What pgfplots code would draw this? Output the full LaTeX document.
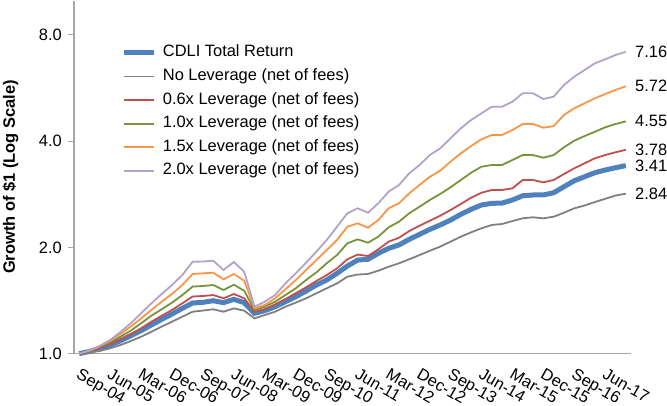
\documentclass[border=0pt]{standalone}
\usepackage{pgfplots}
\pgfplotsset{compat=1.18}
\usepackage{pgfplotstable}
\usepackage{fontspec}
\setmainfont{Liberation Sans}
\newcommand\fs{\fontsize{16.5}{19}\selectfont}
\definecolor{cdli}{HTML}{4F81BD}
\definecolor{nolev}{HTML}{808080}
\definecolor{lsix}{HTML}{C0504D}
\definecolor{lone}{HTML}{77933C}
\definecolor{lonefive}{HTML}{F79646}
\definecolor{ltwo}{HTML}{B3A2C7}
\definecolor{axisgray}{HTML}{A6A6A6}

\pgfplotstableread{
i cdli nolev l06 l10 l15 l20
0 1.000 1.000 1.000 1.000 1.000 1.000
1 1.015 1.008 1.015 1.018 1.021 1.022
2 1.036 1.018 1.040 1.047 1.051 1.053
3 1.058 1.036 1.065 1.077 1.088 1.093
4 1.088 1.058 1.098 1.117 1.137 1.152
5 1.124 1.086 1.137 1.162 1.193 1.219
6 1.162 1.117 1.180 1.219 1.259 1.301
7 1.206 1.154 1.232 1.281 1.330 1.389
8 1.251 1.193 1.281 1.336 1.404 1.476
9 1.295 1.232 1.330 1.395 1.476 1.565
10 1.344 1.273 1.389 1.466 1.565 1.670
11 1.392 1.315 1.452 1.549 1.682 1.822
12 1.398 1.325 1.457 1.555 1.689 1.824
13 1.413 1.336 1.466 1.565 1.696 1.834
14 1.395 1.315 1.435 1.515 1.624 1.726
15 1.426 1.344 1.476 1.568 1.682 1.819
16 1.395 1.324 1.435 1.508 1.610 1.707
17 1.301 1.259 1.315 1.330 1.344 1.359
18 1.324 1.287 1.336 1.359 1.374 1.404
19 1.359 1.315 1.380 1.404 1.435 1.466
20 1.404 1.359 1.429 1.466 1.522 1.582
21 1.450 1.395 1.483 1.532 1.617 1.689
22 1.505 1.435 1.542 1.617 1.726 1.810
23 1.565 1.483 1.607 1.700 1.842 1.945
24 1.617 1.532 1.670 1.803 1.966 2.099
25 1.689 1.582 1.745 1.903 2.099 2.289
26 1.771 1.652 1.851 2.054 2.289 2.498
27 1.842 1.676 1.909 2.108 2.340 2.581
28 1.851 1.682 1.891 2.062 2.274 2.508
29 1.924 1.718 1.975 2.145 2.391 2.666
30 1.988 1.763 2.076 2.280 2.581 2.876
31 2.032 1.803 2.130 2.365 2.666 3.004
32 2.108 1.851 2.225 2.498 2.846 3.243
33 2.178 1.903 2.304 2.608 3.004 3.423
34 2.250 1.957 2.380 2.725 3.171 3.653
35 2.315 2.010 2.459 2.833 3.298 3.816
36 2.391 2.076 2.552 2.959 3.497 4.073
37 2.481 2.145 2.654 3.104 3.694 4.347
38 2.564 2.207 2.766 3.256 3.874 4.589
39 2.637 2.265 2.857 3.385 4.047 4.795
40 2.666 2.315 2.908 3.423 4.164 5.006
41 2.670 2.330 2.908 3.423 4.164 5.006
42 2.725 2.375 2.940 3.536 4.299 5.172
43 2.801 2.418 3.104 3.653 4.472 5.464
44 2.815 2.434 3.104 3.653 4.472 5.464
45 2.815 2.418 3.057 3.590 4.365 5.264
46 2.857 2.443 3.104 3.653 4.413 5.344
47 2.971 2.508 3.227 3.842 4.743 5.767
48 3.089 2.581 3.350 4.011 4.954 6.088
49 3.171 2.628 3.461 4.135 5.119 6.360
50 3.256 2.689 3.576 4.252 5.289 6.643
51 3.313 2.746 3.653 4.377 5.439 6.819
52 3.363 2.805 3.719 4.472 5.582 7.014
53 3.410 2.840 3.780 4.550 5.720 7.160
}\data

\begin{document}
\begin{tikzpicture}
\begin{axis}[
  scale only axis, width=557bp, height=353.1bp,
  xmin=-0.5, xmax=53.5,
  ymode=log, log basis y=2, ymin=1, ymax=10,
  axis x line*=bottom, axis y line*=left,
  axis line style={draw=axisgray, line width=1.2bp, -},
  ytick={1,2,4,8}, yticklabels={1.0,2.0,4.0,8.0}, yminorticks=false,
  xtick=\empty,
  minor xtick={-0.5,0.5,...,53.5},
  extra x ticks={0,3,...,51},
  extra x tick labels={Sep-04,Jun-05,Mar-06,Dec-06,Sep-07,Jun-08,Mar-09,Dec-09,Sep-10,Jun-11,Mar-12,Dec-12,Sep-13,Jun-14,Mar-15,Dec-15,Sep-16,Jun-17},
  extra x tick style={tick style={draw=none}, xticklabel style={xshift=2bp, yshift=-8bp, rotate=-30, anchor=north west, inner sep=0pt, font=\fs}},
  tick align=outside, major tick length=6bp, minor tick length=6bp,
  tick style={draw=axisgray, line width=1.2bp},
  yticklabel style={font=\fs, anchor=east, inner sep=0pt, xshift=-6bp},
  ylabel={Growth of \$1 (Log Scale)},
  every axis y label/.style={at={(axis description cs:-0.1140,0.5)}, rotate=90, anchor=center, font=\bfseries\fs},
  clip=false,
  legend cell align=left,
  legend style={at={(axis description cs:0.086,0.8856)}, anchor=north west, yshift=-4bp, draw=none, fill=none,
    inner sep=0pt, outer sep=0pt, row sep=7.6bp, column sep=6bp,
    nodes={inner sep=0pt, text height=12bp, text depth=4bp, anchor=west}, font=\fs},
  legend image code/.code={\draw[#1] (0bp,0bp) -- (30bp,0bp);},
]
\addplot[cdli, line width=5bp] table[x=i, y=cdli] {\data};
\addlegendentry{CDLI Total Return}
\addplot[nolev, line width=1.8bp] table[x=i, y=nolev] {\data};
\addlegendentry{No Leverage (net of fees)}
\addplot[lsix, line width=1.8bp] table[x=i, y=l06] {\data};
\addlegendentry{0.6x Leverage (net of fees)}
\addplot[lone, line width=1.8bp] table[x=i, y=l10] {\data};
\addlegendentry{1.0x Leverage (net of fees)}
\addplot[lonefive, line width=1.8bp] table[x=i, y=l15] {\data};
\addlegendentry{1.5x Leverage (net of fees)}
\addplot[ltwo, line width=1.8bp] table[x=i, y=l20] {\data};
\addlegendentry{2.0x Leverage (net of fees)}
\node[anchor=west, inner sep=0pt, xshift=4bp, font=\fs] at (axis cs:53.5,7.16) {7.16};
\node[anchor=west, inner sep=0pt, xshift=4bp, font=\fs] at (axis cs:53.5,5.72) {5.72};
\node[anchor=west, inner sep=0pt, xshift=4bp, font=\fs] at (axis cs:53.5,4.55) {4.55};
\node[anchor=west, inner sep=0pt, xshift=4bp, font=\fs] at (axis cs:53.5,3.78) {3.78};
\node[anchor=west, inner sep=0pt, xshift=4bp, font=\fs] at (axis cs:53.5,3.41) {3.41};
\node[anchor=west, inner sep=0pt, xshift=4bp, font=\fs] at (axis cs:53.5,2.84) {2.84};
\end{axis}
\pgfresetboundingbox
\useasboundingbox (-74bp,-52.3bp) rectangle (593bp,353.7bp);
\end{tikzpicture}
\end{document}
